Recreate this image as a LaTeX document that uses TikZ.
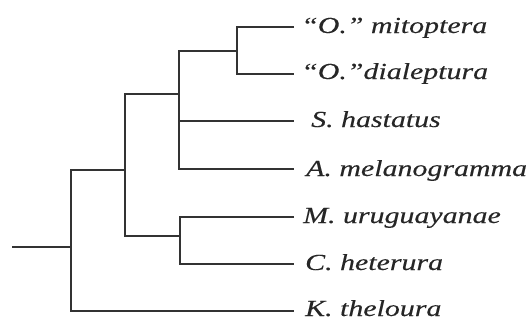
\documentclass[tikz,border=0pt]{standalone}
\usepackage{fontspec}
\newfontfamily\taxonfont[FakeStretch=1.3, FakeBold=0.25]{Liberation Serif}
\begin{document}
\begin{tikzpicture}[x=1pt, y=-1pt,
    branch/.style={line width=2.4pt, draw=black!80},
    taxon/.style={anchor=base west, inner sep=0pt, text=black!85, font=\taxonfont\fontsize{23}{27}\selectfont\itshape}]
    \useasboundingbox (0, 0) rectangle (530, 322);

    \coordinate (root) at (12, 247);
    \coordinate (n0) at (71, 247);
    \coordinate (n1) at (125, 170);
    \coordinate (n2) at (179, 94);
    \coordinate (n3) at (237, 51);
    \coordinate (n4) at (180, 236);

    \coordinate (mit) at (294, 27);
    \coordinate (dial) at (294, 74);
    \coordinate (hast) at (294, 121);
    \coordinate (melan) at (294, 169);
    \coordinate (urug) at (294, 217);
    \coordinate (heter) at (294, 264);
    \coordinate (thel) at (294, 311);

    \draw[branch] (root) -- (n0);
    \draw[branch] (n1) -| (n0) |- (thel);
    \draw[branch] (n2) -| (n1) |- (n4);
    \draw[branch] (n3) -| (n2) |- (melan);
    \draw[branch] (n2) |- (hast);
    \draw[branch] (mit) -| (n3) |- (dial);
    \draw[branch] (urug) -| (n4) |- (heter);

    \node[taxon] (tmit) at (301, 33) {“O.” mitoptera};
    \node[taxon] (tdial) at (301, 79) {“O.”dialeptura};
    \node[taxon] (thast) at (311, 127) {S. hastatus};
    \node[taxon] (tmelan) at (306, 176) {A. melanogramma};
    \node[taxon] (turug) at (303, 223) {M. uruguayanae};
    \node[taxon] (theter) at (305, 270) {C. heterura};
    \node[taxon] (tthel) at (305, 316) {K. theloura};
\end{tikzpicture}
\end{document}
